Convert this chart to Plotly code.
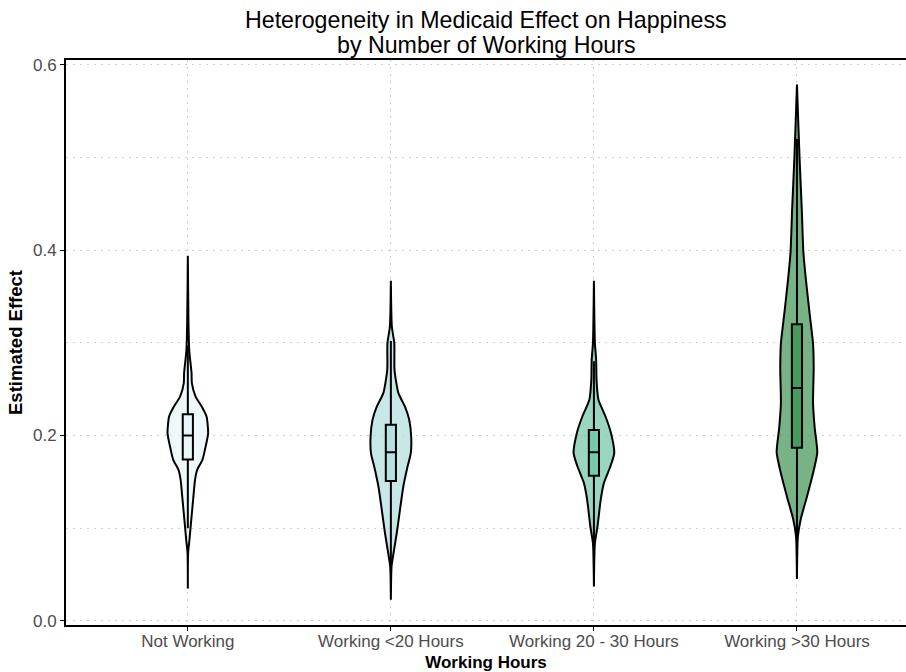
import plotly.graph_objects as go

# ---------------- data ----------------
categories = ["Not Working", "Working <20 Hours", "Working 20 - 30 Hours", "Working >30 Hours"]

# density profiles (y value, relative density)
nw_y = [0.035, 0.073, 0.087, 0.105, 0.131, 0.152, 0.163, 0.174, 0.188, 0.2025, 0.2205, 0.231, 0.242, 0.2565, 0.267, 0.292, 0.321, 0.394]
nw_d = [0.0, 0.3, 1.7, 3.3, 5.7, 7.7, 10.0, 15.7, 19.0, 21.7, 20.0, 15.0, 8.3, 4.3, 4.0, 1.5, 0.7, 0.0]

lt20_y = [0.0227, 0.0586, 0.073, 0.0946, 0.12, 0.145, 0.1665, 0.181, 0.1989, 0.2169, 0.2313, 0.2457, 0.2709, 0.2997, 0.3176, 0.367]
lt20_d = [0.0, 0.7, 2.7, 6.0, 9.3, 12.7, 17.0, 20.3, 20.7, 18.7, 14.3, 7.7, 3.7, 3.5, 1.0, 0.0]

w2030_y = [0.037, 0.0838, 0.1018, 0.1306, 0.1486, 0.1665, 0.181, 0.2025, 0.2205, 0.2385, 0.26, 0.2816, 0.2997, 0.367]
w2030_d = [0.0, 1.0, 3.7, 7.0, 10.3, 17.0, 21.0, 17.7, 12.0, 4.7, 2.7, 2.3, 1.0, 0.0]

gt30_y = [0.0455, 0.091, 0.11, 0.1326, 0.1592, 0.1818, 0.2084, 0.2349, 0.2728, 0.2992, 0.3296, 0.3674, 0.3977, 0.443, 0.50, 0.5787]
gt30_d = [0.0, 1.0, 4.2, 10.5, 17.5, 22.1, 19.3, 17.5, 18.2, 17.5, 14.0, 9.8, 7.0, 5.3, 2.8, 0.0]

profiles_y = [nw_y, lt20_y, w2030_y, gt30_y]
profiles_d = [nw_d, lt20_d, w2030_d, gt30_d]

# box statistics
box_q1 = [0.174, 0.151, 0.1565, 0.1868]
box_median = [0.200, 0.182, 0.182, 0.2512]
box_q3 = [0.223, 0.2115, 0.206, 0.320]
box_low = [0.100, 0.060, 0.082, 0.0455]
box_high = [0.297, 0.302, 0.280, 0.520]

y_ticks = [0.0, 0.2, 0.4, 0.6]

title_lines = ["Heterogeneity in Medicaid Effect on Happiness", "by Number of Working Hours"]

# ---------------- styling ----------------
base_colors = [(230, 245, 249), (173, 221, 221), (104, 194, 161), (54, 142, 73)]
alpha = 0.67
violin_half = 0.1
box_width = 0.05
font_family = "Liberation Sans, Arial, sans-serif"
x_range = [0.4, 4.537]
y_range = [-0.0045, 0.6052]
grid_col = "#cfcfcf"
grid_dash = "2px,5px"

fig = go.Figure()

positions = list(range(1, len(categories) + 1))

for pos, ys, ds, col in zip(positions, profiles_y, profiles_d, base_colors):
    m = max(ds)
    right_x = [pos + violin_half * d / m for d in ds]
    left_x = [pos - violin_half * d / m for d in ds]
    xs = right_x + left_x[::-1] + [right_x[0]]
    yy = ys + ys[::-1] + [ys[0]]
    fig.add_trace(go.Scatter(
        x=xs, y=yy, mode="lines", fill="toself",
        fillcolor=f"rgba({col[0]},{col[1]},{col[2]},{alpha})",
        line=dict(color="black", width=2, shape="spline", smoothing=0.6),
        hoverinfo="skip", showlegend=False,
    ))

# boxes on an overlaying axis pair so they sit above the violins
for i, (pos, col) in enumerate(zip(positions, base_colors)):
    fig.add_trace(go.Box(
        x=[pos], q1=[box_q1[i]], median=[box_median[i]], q3=[box_q3[i]],
        lowerfence=[box_low[i]], upperfence=[box_high[i]],
        width=box_width, whiskerwidth=0, boxpoints=False,
        fillcolor=f"rgba({col[0]},{col[1]},{col[2]},{alpha})",
        line=dict(color="black", width=2),
        showlegend=False, hoverinfo="skip",
        xaxis="x2", yaxis="y2",
    ))

title_annots = [
    dict(text=t, x=0.5, xref="paper", xanchor="center",
         y=1.0, yref="paper", yanchor="middle", yshift=s,
         showarrow=False, font=dict(size=23.2, color="black", family=font_family))
    for t, s in zip(title_lines, [40, 15])
]

fig.update_layout(
    width=906, height=672,
    margin=dict(l=66, r=0, t=60, b=47),
    plot_bgcolor="white", paper_bgcolor="white",
    font=dict(family=font_family, color="#4d4d4d", size=17),
    showlegend=False,
    xaxis2=dict(overlaying="x", range=x_range, visible=False, showgrid=False, zeroline=False),
    yaxis2=dict(overlaying="y", range=y_range, visible=False, showgrid=False, zeroline=False),
    annotations=title_annots,
)

fig.layout.xaxis.update(
    range=x_range,
    tickvals=positions, ticktext=categories,
    showgrid=True, gridcolor=grid_col, griddash=grid_dash, gridwidth=1,
    showline=True, linecolor="black", linewidth=2, mirror=True,
    ticks="outside", ticklen=4, tickcolor="black", tickwidth=1,
    tickfont=dict(size=17, color="#4d4d4d"),
    ticklabelstandoff=-4,
    zeroline=False,
    title=dict(text="<b>Working Hours</b>", font=dict(size=17, color="black"), standoff=6),
)

fig.layout.yaxis.update(
    range=y_range,
    tickvals=y_ticks, tickformat=".1f",
    showgrid=True, gridcolor=grid_col, griddash=grid_dash, gridwidth=1,
    minor=dict(dtick=0.1, tick0=0, showgrid=True, gridcolor=grid_col, griddash=grid_dash, gridwidth=1, ticks=""),
    showline=True, linecolor="black", linewidth=2, mirror=False,
    ticks="outside", ticklen=4, tickcolor="black", tickwidth=1,
    tickfont=dict(size=17, color="#4d4d4d"),
    zeroline=False,
    title=dict(text="<b>Estimated Effect</b>", font=dict(size=18.5, color="black"), standoff=5),
)

fig.write_html("out.html")
